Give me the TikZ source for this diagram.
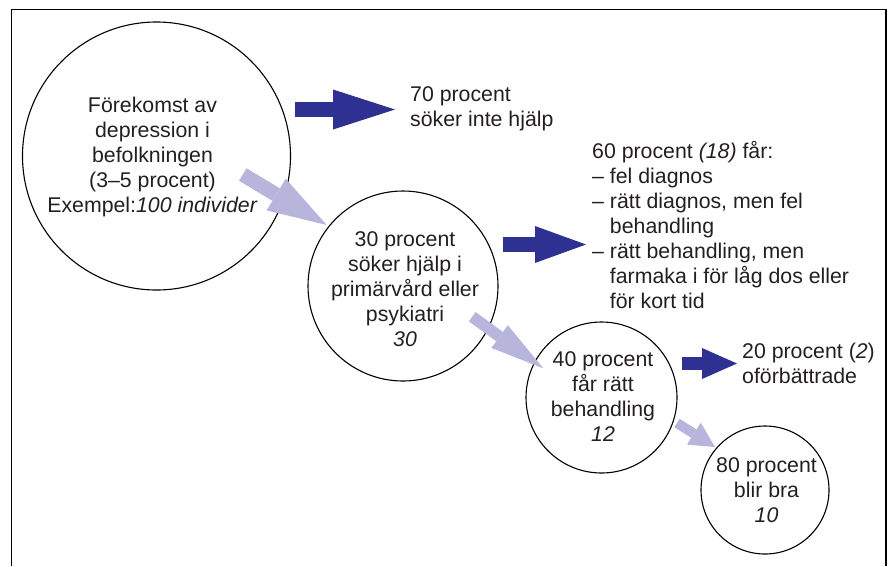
\documentclass[tikz,border=0pt]{standalone}
\usepackage{fontspec}
\setmainfont{Liberation Sans}
\usetikzlibrary{arrows.meta}

\definecolor{arrowdark}{HTML}{2E3192}
\definecolor{arrowlight}{HTML}{B7B5DB}
\definecolor{ink}{HTML}{231F20}

\begin{document}
\begin{tikzpicture}[x=1pt,y=-1pt,
    font=\fontsize{21.3}{25}\selectfont,
    bubble/.style={circle,draw=black,line width=1.1pt,inner sep=0pt},
    inside/.style={align=center,inner sep=0pt,text=ink},
    note/.style={anchor=base west,align=left,inner sep=0pt,text=ink},
    darkarrow/.style n args={3}{draw=arrowdark,line width=#1,
      -{Triangle[width=#2,length=#3,line width=0pt]}},
    lightarrow/.style n args={3}{draw=arrowlight,line width=#1,
      -{Triangle[width=#2,length=#3,line width=0pt]}}]
          \useasboundingbox (0,0) rectangle (888,566);
          \draw[line width=1.5pt] (11.7,566) -- (11.7,9.5) -- (886,9.5) -- (886,566);

          % circles
          \node[bubble,minimum size=268] (c1) at (156.5,156) {};
          \node[bubble,minimum size=190] (c2) at (403,286) {};
          \node[bubble,minimum size=151] (c3) at (601.5,397.5) {};
          \node[bubble,minimum size=128] (c4) at (765,490) {};

          \node[inside] (c1t) at (152.5,157) {F\"orekomst av\\depression i\\befolkningen\\(3--5 procent)\\Exempel:\textit{100 individer}};
          \node[inside] (c2t) at (405,289) {30 procent\\s\"oker hj\"alp i\\prim\"arv\aa rd eller\\psykiatri\\\textit{30}};
          \node[inside] (c3t) at (603,397) {40 procent\\f\aa r r\"att\\behandling\\\textit{12}};
          \node[inside] (c4t) at (766.5,490) {80 procent\\blir bra\\\textit{10}};

          % side notes (anchored at the baseline of their last line)
          \node[note] (t70) at (410,126) {70 procent\\s\"oker inte hj\"alp};
          \node[note] (t60) at (592,308) {60 procent \textit{(18)} f\aa r:\\-- fel diagnos\\-- r\"att diagnos, men fel\\\hphantom{-- }behandling\\-- r\"att behandling, men\\\hphantom{-- }farmaka i f\"or l\aa g dos eller\\\hphantom{-- }f\"or kort tid};
          \node[note] (t20) at (742,383) {20 procent (\textit{2})\\of\"orb\"attrade};

          % arrows
          \coordinate (a1s) at (295,109.5);   \coordinate (a1e) at (395,109.5);
          \coordinate (a2s) at (503,244.5);   \coordinate (a2e) at (586,244.5);
          \coordinate (a3s) at (682,363.5);   \coordinate (a3e) at (737,363.5);
          \coordinate (l1s) at (242.8,174.5); \coordinate (l1e) at (326.7,225);
          \coordinate (l2s) at (472.2,316.7); \coordinate (l2e) at (543.3,368.3);
          \coordinate (l3s) at (677,423);     \coordinate (l3e) at (715,447);

          \draw[darkarrow={15pt}{40pt}{62pt}] (a1s) -- (a1e);
          \draw[darkarrow={15pt}{37pt}{51pt}] (a2s) -- (a2e);
          \draw[darkarrow={13pt}{31pt}{35pt}] (a3s) -- (a3e);
          \draw[lightarrow={14.6pt}{37pt}{59pt}] (l1s) -- (l1e);
          \draw[lightarrow={11.5pt}{28pt}{54pt}] (l2s) -- (l2e);
          \draw[lightarrow={10pt}{26pt}{25pt}] (l3s) -- (l3e);
      \end{tikzpicture}
\end{document}
